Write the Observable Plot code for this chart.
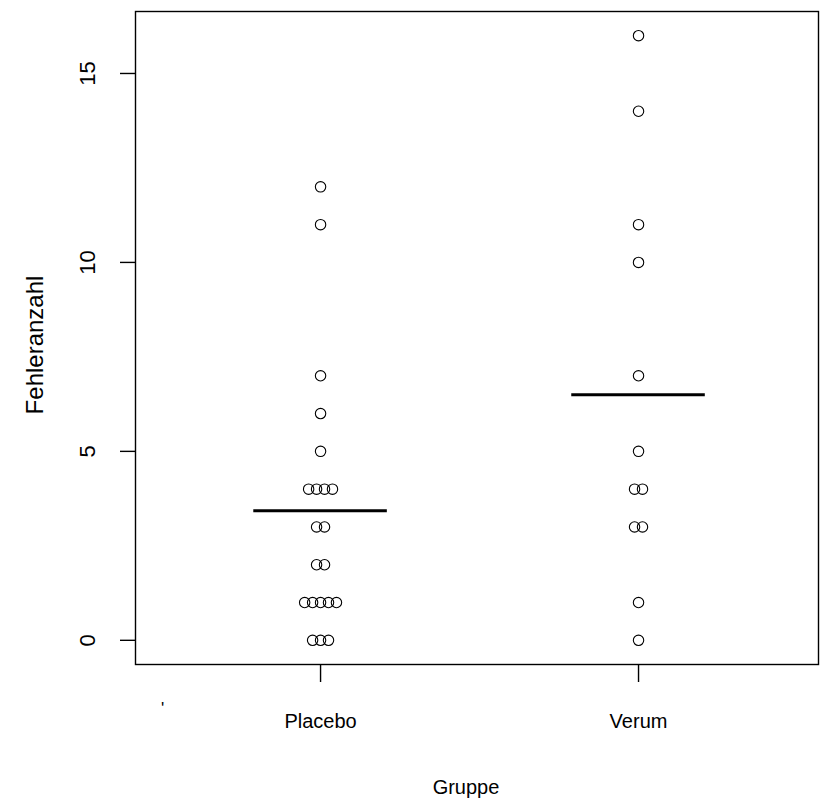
<!DOCTYPE html>
<html>
<head>
<meta charset="utf-8">
<script src="https://cdn.jsdelivr.net/npm/d3@7"></script>
<script src="https://cdn.jsdelivr.net/npm/@observablehq/plot@0.6"></script>
<style>
  html, body { margin: 0; padding: 0; background: #fff; }
  #chart svg { display: block; }
</style>
</head>
<body>
<div id="chart"></div>
<script>
// Data (stripchart, method "stack")
const groups = ["Placebo", "Verum"];
const placebo = [0,0,0, 1,1,1,1,1, 2,2, 3,3, 4,4,4,4, 5, 6, 7, 11, 12];
const verum = [0, 1, 3,3, 4,4, 5, 7, 10, 11, 14, 16];
const yTicks = [0, 5, 10, 15];
const xLabel = "Gruppe";
const yLabel = "Fehleranzahl";
const strayLabels = [{x: 0.503, text: "'"}];   // small stray mark left of "Placebo"

const stackStep = 0.025;   // horizontal stacking step (x units)
const meanHalf = 0.21;     // half width of the mean bar (x units)

function stacked(values, gi) {
  const counts = d3.rollup(values, v => v.length, v => v);
  const seen = new Map();
  return values.map(v => {
    const n = counts.get(v);
    const k = seen.get(v) || 0;
    seen.set(v, k + 1);
    return {group: groups[gi], g: gi + 1, value: v, x: gi + 1 + (k - (n - 1) / 2) * stackStep};
  });
}
const points = [...stacked(placebo, 0), ...stacked(verum, 1)];
const means = [placebo, verum].map((vals, i) => ({g: i + 1, mean: d3.mean(vals)}));

const font = "'Liberation Sans', Arial, Helvetica, sans-serif";

const chart = Plot.plot({
  width: 820,
  height: 810,
  marginLeft: 135,
  marginRight: 2,
  marginTop: 11,
  marginBottom: 146,
  style: {fontFamily: font, fontSize: "19px", color: "#000", background: "#fff"},
  x: {type: "linear", domain: [0.418, 2.566]},
  y: {domain: [-0.64, 16.64]},
  marks: [
    Plot.frame({stroke: "#000", strokeWidth: 1.4}),
    Plot.axisY({ticks: yTicks, tickSize: 15, tickPadding: 26, tickRotate: -90, label: null,
                fontSize: 22, stroke: "#000", strokeWidth: 1.4}),
    Plot.axisX({ticks: [1, 2], tickFormat: d => groups[d - 1], tickSize: 18, tickPadding: 31,
                label: null, fontSize: 20, stroke: "#000", strokeWidth: 1.4}),
    Plot.text(strayLabels, {x: "x", frameAnchor: "bottom", dy: 44, text: "text", fontSize: 17, lineAnchor: "middle"}),
    Plot.text([xLabel], {frameAnchor: "bottom", dx: -11, dy: 123, text: d => d, fontSize: 20, lineAnchor: "middle"}),
    Plot.text([yLabel], {frameAnchor: "left", dx: -100, dy: 7, rotate: -90, textAnchor: "middle",
                         text: d => d, fontSize: 24, lineAnchor: "middle"}),
    Plot.dot(points, {x: "x", y: "value", r: 5.2, stroke: "#000", strokeWidth: 1.1, fill: "none"}),
    Plot.ruleY(means, {y: "mean", x1: d => d.g - meanHalf, x2: d => d.g + meanHalf, stroke: "#000", strokeWidth: 3})
  ]
});
document.getElementById("chart").append(chart);
</script>
</body>
</html>
